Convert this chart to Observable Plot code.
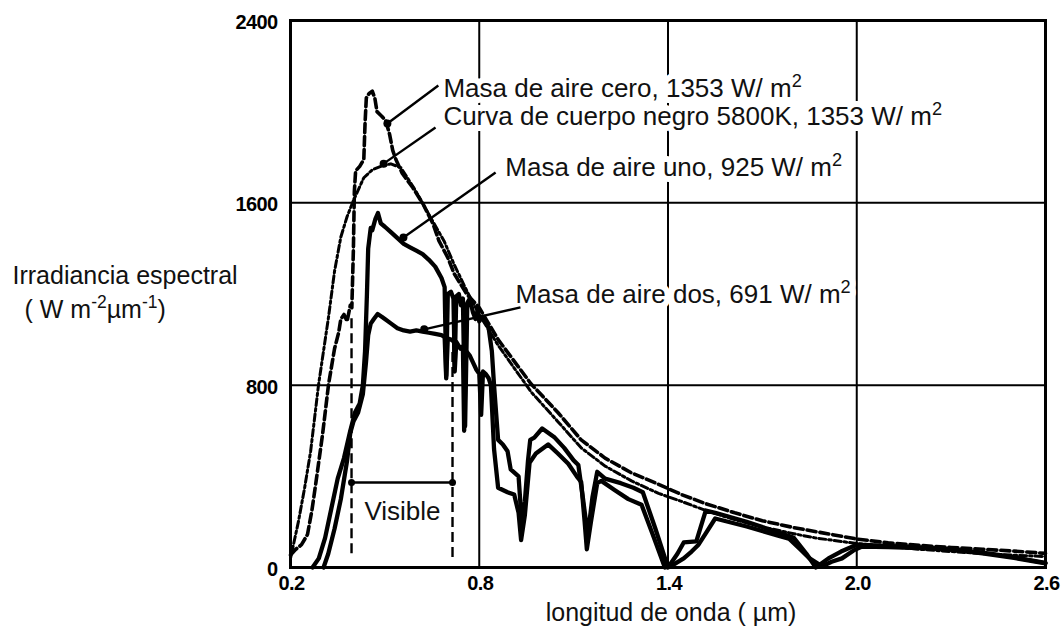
<!DOCTYPE html>
<html>
<head>
<meta charset="utf-8">
<script src="https://cdn.jsdelivr.net/npm/d3@7"></script>
<script src="https://cdn.jsdelivr.net/npm/@observablehq/plot@0.6"></script>
<style>
  html, body { margin: 0; padding: 0; background: #fff; }
  #chart svg { display: block; }
  g[aria-label="x-axis tick label"] text, g[aria-label="y-axis tick label"] text { font-weight: bold; letter-spacing: -0.6px; }
</style>
</head>
<body>
<div id="chart"></div>
<script>
// ---- Data ----
// wavelength (µm), spectral irradiance (W m^-2 µm^-1)
const airMassZero = [
  [0.2,55],[0.216,79],[0.235,100],[0.254,145],[0.268,250],[0.28,365],[0.302,585],[0.321,804],
  [0.34,960],[0.353,1030],[0.36,1090],[0.37,1110],[0.38,1080],[0.39,1150],[0.395,1140],[0.40,1400],
  [0.403,1650],[0.407,1740],[0.42,1760],[0.433,1790],[0.437,1950],[0.441,2060],[0.45,2080],[0.46,2090],
  [0.468,2060],[0.475,2000],[0.49,1980],[0.503,1960],[0.515,1900],[0.525,1830],[0.535,1790],[0.555,1730],
  [0.589,1666],[0.621,1596],[0.653,1508],[0.672,1433],[0.70,1360],[0.72,1290],[0.76,1200],[0.80,1140],
  [0.86,1000],[0.965,805],[1.05,680],[1.124,560],[1.2,480],[1.284,415],[1.37,365],[1.443,320],
  [1.52,280],[1.612,240],[1.70,205],[1.80,175],[1.867,158],[2.0,125],[2.1,108],[2.2,97],
  [2.3,88],[2.4,80],[2.5,72],[2.6,62]
];
const blackBody = [
  [0.2,40],[0.225,200],[0.245,350],[0.264,510],[0.289,800],[0.305,950],[0.321,1100],[0.34,1300],
  [0.36,1450],[0.38,1540],[0.40,1610],[0.433,1710],[0.46,1745],[0.487,1760],[0.519,1771],[0.551,1754],
  [0.592,1666],[0.646,1534],[0.688,1433],[0.72,1330],[0.76,1215],[0.80,1110],[0.86,975],[0.965,770],
  [1.05,640],[1.124,525],[1.2,445],[1.284,380],[1.37,325],[1.443,290],[1.52,250],[1.612,210],
  [1.70,178],[1.80,148],[1.867,130],[2.0,105],[2.1,92],[2.2,80],[2.3,70],[2.4,61],[2.5,54],[2.6,48]
];
const airMassOne = [
  [0.27,0],[0.29,40],[0.31,130],[0.33,260],[0.35,390],[0.37,480],[0.39,600],[0.405,680],[0.42,720],
  [0.43,800],[0.437,950],[0.443,1200],[0.447,1400],[0.455,1490],[0.46,1480],[0.47,1530],[0.478,1555],
  [0.487,1510],[0.50,1495],[0.52,1470],[0.54,1445],[0.56,1420],[0.58,1405],[0.60,1390],[0.62,1375],
  [0.64,1350],[0.66,1320],[0.68,1270],[0.69,1230],[0.695,840],[0.70,1200],[0.71,1210],[0.718,1180],
  [0.722,880],[0.727,1190],[0.735,1200],[0.742,1150],[0.748,1180],[0.755,620],[0.762,1160],[0.77,1180],
  [0.78,1120],[0.788,1090],[0.795,1130],[0.80,1080],[0.81,1100],[0.82,1080],[0.83,1050],[0.84,950],
  [0.847,800],[0.86,560],[0.875,540],[0.89,510],[0.90,430],[0.925,400],[0.93,300],[0.935,180],
  [0.945,290],[0.955,470],[0.962,560],[0.975,570],[1.0,610],[1.01,600],[1.04,570],[1.07,525],
  [1.10,470],[1.115,450],[1.13,300],[1.145,140],[1.16,310],[1.175,420],[1.20,390],[1.25,370],
  [1.29,350],[1.32,330],[1.36,170],[1.40,0],[1.43,60],[1.45,110],[1.49,115],[1.52,250],[1.55,240],
  [1.65,200],[1.75,155],[1.80,130],[1.84,60],[1.87,0],[1.91,40],[1.95,70],[2.0,100],[2.1,95],
  [2.2,88],[2.3,80],[2.4,65],[2.5,45],[2.6,20]
];
const airMassTwo = [
  [0.305,0],[0.32,60],[0.34,170],[0.36,300],[0.38,470],[0.39,590],[0.40,640],[0.415,680],[0.43,760],
  [0.44,900],[0.447,1020],[0.455,1070],[0.465,1090],[0.477,1112],[0.49,1100],[0.50,1090],[0.52,1070],
  [0.54,1050],[0.56,1040],[0.58,1035],[0.60,1040],[0.62,1035],[0.64,1030],[0.66,1025],[0.68,1020],
  [0.69,1010],[0.695,830],[0.70,1005],[0.71,1000],[0.72,990],[0.722,860],[0.727,990],[0.74,960],
  [0.748,970],[0.752,600],[0.758,950],[0.77,930],[0.78,900],[0.79,870],[0.80,850],[0.806,670],
  [0.812,860],[0.82,850],[0.83,830],[0.837,800],[0.847,520],[0.86,350],[0.89,330],[0.911,320],
  [0.925,240],[0.933,120],[0.945,230],[0.96,460],[0.98,500],[1.019,540],[1.05,500],[1.083,455],
  [1.11,400],[1.124,375],[1.135,200],[1.142,80],[1.155,200],[1.175,370],[1.188,380],[1.23,340],
  [1.274,300],[1.316,275],[1.35,150],[1.39,0],[1.42,15],[1.45,40],[1.475,70],[1.497,100],[1.52,150],
  [1.55,215],[1.65,180],[1.75,140],[1.784,127],[1.82,80],[1.85,40],[1.89,5],[1.92,25],[1.953,40],
  [1.99,75],[2.017,92],[2.1,90],[2.2,85],[2.3,78],[2.4,62],[2.5,42],[2.6,18]
];

// Axis ticks and labels
const xTicks = [0.2, 0.8, 1.4, 2.0, 2.6];
const yTicks = [0, 800, 1600, 2400];
const gridXValues = [0.8, 1.4, 2.0];
const gridYValues = [800, 1600];
const xLabel = "longitud de onda ( µm)";
const yLabelLines = ["Irradiancia espectral", "( W m^{-2}µm^{-1})"];

// Annotations: label, label anchor (x, y), arrow from (x1,y1) to tip (x2,y2)
const annotLabels = [
  "Masa de aire cero, 1353 W/ m^{2}",
  "Curva de cuerpo negro 5800K, 1353 W/ m^{2}",
  "Masa de aire uno, 925 W/ m^{2}",
  "Masa de aire dos, 691 W/ m^{2}"
];
const annotX = [0.686, 0.686, 0.883, 0.915];
const annotY = [2099, 1976, 1756, 1199];
const arrowFromX = [0.670, 0.661, 0.852, 0.931];
const arrowFromY = [2115, 1931, 1733, 1141];
const arrowToX = [0.508, 0.496, 0.559, 0.625];
const arrowToY = [1948, 1772, 1448, 1045];

// Visible band
const visibleEdgesX = [0.394, 0.715];
const visibleEdgesBottom = [60, 44];
const visibleEdgesTop = [1100, 965];
const visibleBarY = 373;
const visibleLabel = "Visible";
const visibleLabelX = 0.556;
const visibleLabelY = 247;

// ---- Build tables ----
const toRows = (arr) => arr.map(([wl, v]) => ({wl, v}));
const annots = annotLabels.map((t, i) => ({
  text: t, x: annotX[i], y: annotY[i],
  x1: arrowFromX[i], y1: arrowFromY[i], x2: arrowToX[i], y2: arrowToY[i]
}));
const visEdges = visibleEdgesX.map((x, i) => ({x, y1: visibleEdgesBottom[i], y2: visibleEdgesTop[i]}));
const visBar = [{x1: visibleEdgesX[0], x2: visibleEdgesX[1], y: visibleBarY}];
const visDots = visibleEdgesX.map(x => ({x, y: visibleBarY}));

const font = "'Liberation Sans', Arial, Helvetica, sans-serif";
const annotText = {x: "x", y: "y", text: "text", textAnchor: "start", lineAnchor: "middle", fontSize: 26};

const chart = Plot.plot({
  width: 1061,
  height: 628,
  marginLeft: 290,
  marginRight: 16,
  marginTop: 20,
  marginBottom: 61,
  style: {fontFamily: font, background: "#fff", color: "#000"},
  x: {domain: [0.2, 2.6]},
  y: {domain: [0, 2400]},
  marks: [
    Plot.ruleX(gridXValues, {stroke: "#000", strokeWidth: 2}),
    Plot.ruleY(gridYValues, {stroke: "#000", strokeWidth: 2}),
    Plot.line(toRows(blackBody), {x: "wl", y: "v", stroke: "#000", strokeWidth: 3, strokeDasharray: "7,3,2.5,3", strokeLinejoin: "round"}),
    Plot.line(toRows(airMassZero), {x: "wl", y: "v", stroke: "#000", strokeWidth: 3.6, strokeDasharray: "9,4", strokeLinejoin: "round"}),
    Plot.line(toRows(airMassOne), {x: "wl", y: "v", stroke: "#000", strokeWidth: 4.3, strokeLinejoin: "round"}),
    Plot.line(toRows(airMassTwo), {x: "wl", y: "v", stroke: "#000", strokeWidth: 4.3, strokeLinejoin: "round"}),
    Plot.ruleX(visEdges, {x: "x", y1: "y1", y2: "y2", stroke: "#000", strokeWidth: 2.4, strokeDasharray: "10,5"}),
    Plot.link(visBar, {x1: "x1", x2: "x2", y1: "y", y2: "y", stroke: "#000", strokeWidth: 2.4}),
    Plot.dot(visDots, {x: "x", y: "y", r: 3.5, fill: "#000"}),
    Plot.text(annots, {...annotText, fill: "#fff", stroke: "#fff", strokeWidth: 12}),
    Plot.link(annots, {x1: "x1", y1: "y1", x2: "x2", y2: "y2", stroke: "#000", strokeWidth: 2.4}),
    Plot.dot(annots, {x: "x2", y: "y2", r: 4, fill: "#000"}),
    Plot.text(annots, {...annotText, fill: "#111"}),
    Plot.text([visibleLabel], {x: visibleLabelX, y: visibleLabelY, text: d => d, textAnchor: "middle", fontSize: 26, fill: "#111"}),
    Plot.axisX({ticks: xTicks, tickFormat: d3.format(".1f"), tickSize: 0, tickPadding: 8, dx: 1, fontSize: 20, label: null}),
    Plot.axisY({ticks: yTicks, tickFormat: d3.format("d"), tickSize: 0, tickPadding: 13, dy: 2, fontSize: 20, label: null}),
    Plot.text([xLabel], {frameAnchor: "bottom", text: d => d, lineAnchor: "middle", dx: 3, dy: 45, fontSize: 25, fill: "#111"}),
    Plot.text([yLabelLines[0]], {frameAnchor: "left", text: d => d, textAnchor: "start", dx: -278, dy: -18, fontSize: 25, fill: "#111"}),
    Plot.text([yLabelLines[1]], {frameAnchor: "left", text: d => d, textAnchor: "start", dx: -266, dy: 16, fontSize: 25, fill: "#111"}),
    Plot.frame({stroke: "#000", strokeWidth: 3})
  ]
});

// Turn ^{...} markers into real superscript tspans
function supify(svg) {
  svg.querySelectorAll("text").forEach(t => {
    const tspans = t.querySelectorAll("tspan");
    const targets = tspans.length ? [...tspans] : [t];
    targets.forEach(el => {
      const s = el.textContent;
      if (!s.includes("^{")) return;
      const parts = s.split(/\^\{([^}]*)\}/);
      el.textContent = "";
      parts.forEach((p, i) => {
        if (!p) return;
        const ts = document.createElementNS("http://www.w3.org/2000/svg", "tspan");
        ts.textContent = p;
        if (i % 2) {
          ts.setAttribute("font-size", "70%");
          ts.setAttribute("baseline-shift", "super");
        }
        el.appendChild(ts);
      });
    });
  });
}
supify(chart);
document.getElementById("chart").appendChild(chart);
</script>
</body>
</html>
